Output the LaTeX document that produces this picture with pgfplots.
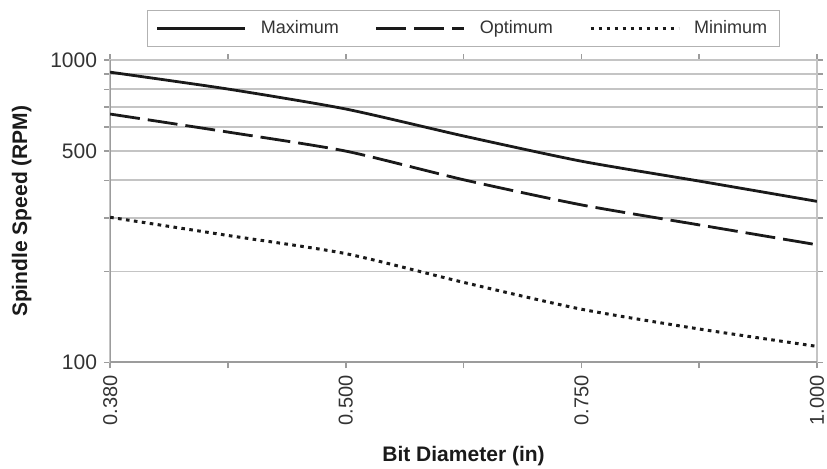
\documentclass[border=0pt]{standalone}
\usepackage{fontspec}
\setmainfont{Liberation Sans}
\usepackage{pgfplots}
\pgfplotsset{compat=1.18}

\definecolor{ink}{HTML}{1A1A1A}
\definecolor{gridc}{HTML}{C4C4C4}
\definecolor{axc}{HTML}{9C9C9C}
\definecolor{txt}{HTML}{333333}

% categories: 0.380 0.440 0.500 0.625 0.750 0.875 1.000 (labels on every other)
\begin{document}
\begin{tikzpicture}
\begin{axis}[
    scale only axis,
    width=353pt, height=151pt,
    xmin=0, xmax=6,
    ymode=log, ymin=100, ymax=1000,
    xtick={0,...,6},
    xticklabels={0.380,,0.500,,0.750,,1.000},
    x tick label style={rotate=90, anchor=east, font=\fontsize{10}{12}\selectfont, text=txt},
    ytick={100,500,1000},
    yticklabels={100,500,1000},
    minor ytick={200,300,400,600,700,800,900},
    y tick label style={font=\fontsize{10.5}{12}\selectfont, text=txt},
    /pgf/number format/assume math mode=true,
    ymajorgrids, yminorgrids,
    major grid style={draw=gridc, line width=0.9pt},
    minor grid style={draw=gridc, line width=0.9pt},
    tick align=outside,
    major tick length=3pt, minor tick length=3pt,
    tick style={draw=axc, line width=0.8pt},
    axis line style={draw=gridc, line width=0.9pt},
    xlabel={\textbf{Bit Diameter (in)}},
    ylabel={\textbf{Spindle Speed (RPM)}},
    label style={font=\fontsize{10.5}{12}\selectfont, text=ink},
    xlabel style={at={(axis description cs:0.5,-0.311)}, anchor=center},
    ylabel style={at={(axis description cs:-0.125,0.5)}, anchor=center},
    legend columns=3,
    legend style={at={(0.5,1)}, anchor=north, yshift=25pt,
        draw=gray!60, fill=white,
        font=\fontsize{9}{11}\selectfont, text=txt,
        inner xsep=4pt, inner ysep=3pt,
        /tikz/every odd column/.append style={column sep=5pt},
        /tikz/every even column/.append style={column sep=16pt}},
    legend image code/.code={\draw[#1] (0pt,0pt) -- (44pt,0pt);},
]
\coordinate (sw) at (rel axis cs:0,0);
\coordinate (ne) at (rel axis cs:1,1);
\draw[axc, line width=1.3pt] (rel axis cs:0,1) -- (rel axis cs:0,0) -- (rel axis cs:1,0);

\addplot[ink, line width=1.4pt, smooth, tension=0.4] coordinates {
    (0,912) (1,802) (2,689) (3,561) (4,463) (5,398) (6,341)
};
\addlegendentry{Maximum}

\addplot[ink, line width=1.4pt, dash pattern=on 15pt off 4pt, smooth, tension=0.4] coordinates {
    (0,663) (1,578) (2,500) (3,402) (4,332) (5,285) (6,245)
};
\addlegendentry{Optimum}

\addplot[ink, line width=1.5pt, dash pattern=on 1.8pt off 2.2pt, smooth, tension=0.4] coordinates {
    (0,302) (1,263) (2,229) (3,184) (4,150) (5,129) (6,113)
};
\addlegendentry{Minimum}
\end{axis}
\pgfresetboundingbox
\path ([xshift=-55pt,yshift=-53pt]sw) rectangle ([xshift=5pt,yshift=30pt]ne);
\end{tikzpicture}
\end{document}
